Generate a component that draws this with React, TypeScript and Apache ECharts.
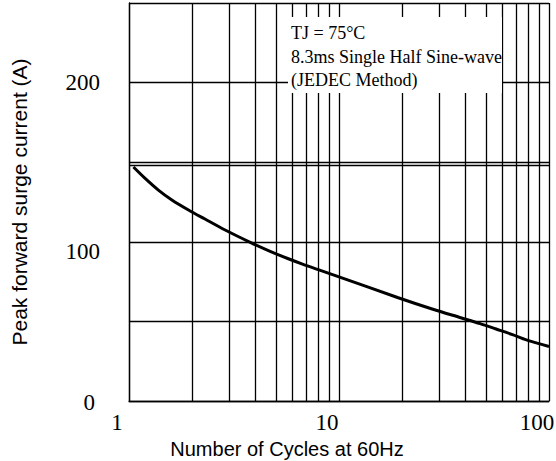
import React, { useEffect, useRef } from "react";
import * as echarts from "echarts";

const cycles = [1.05, 1.19, 1.38, 1.6, 1.92, 2.3, 2.87, 3.8, 4.7, 5.7, 6.7, 7.9, 10, 19, 28, 38, 47, 56, 67, 78, 100];
const surgeCurrent = [147, 140, 132.5, 126.3, 120, 114.3, 107.4, 99.5, 94, 89.5, 86, 82.7, 78, 65, 57.6, 52.3, 48.6, 45.2, 41.7, 38.4, 34.2];
const minorCycleLines = [2, 3, 4, 5, 6, 7, 8, 9, 20, 30, 40, 50, 60, 70, 80, 90];
const extraCurrentLines = [148.3];
const yTickLabels = [0, 100, 200];
const annotationLines = ["TJ = 75°C", "8.3ms Single Half Sine-wave", "(JEDEC Method)"];
const xTitle = "Number of Cycles at 60Hz";
const yTitle = "Peak forward surge current (A)";

const SERIF = "'Liberation Serif', 'Times New Roman', serif";
const SANS = "'Liberation Sans', Arial, sans-serif";
const GRID_W = 1.3;

export default function App() {
  const ref = useRef<HTMLDivElement>(null);
  useEffect(() => {
    if (!ref.current) return;
    const chart = echarts.init(ref.current, undefined, { renderer: "svg" });
    const data = cycles.map((c, i) => [c, surgeCurrent[i]]);
    const markData: any[] = minorCycleLines.map((v) => ({ xAxis: v }));
    extraCurrentLines.forEach((v) => markData.push({ yAxis: v }));
    chart.setOption({
      animation: false,
      backgroundColor: "#fff",
      grid: { left: 129, right: 7, top: 3, bottom: 60, containLabel: false, outerBoundsMode: "none" },
      xAxis: {
        type: "log",
        logBase: 10,
        min: 1,
        max: 100,
        name: xTitle,
        nameLocation: "middle",
        nameGap: 36,
        nameTextStyle: { fontFamily: SANS, fontSize: 20, color: "#000", padding: [0, 104, 0, 0] },
        axisLine: { show: true, onZero: false, lineStyle: { color: "#000", width: GRID_W } },
        axisTick: { show: false },
        axisLabel: {
          show: true,
          showMinLabel: true,
          showMaxLabel: true,
          margin: 10,
          fontFamily: SERIF,
          fontSize: 23,
          color: "#000",
          padding: [0, 24, 0, 0],
          formatter: (v: number) => String(v),
        },
        splitLine: { show: true, lineStyle: { color: "#000", width: GRID_W } },
        minorSplitLine: { show: false },
      },
      yAxis: {
        type: "value",
        min: 0,
        max: 250,
        interval: 50,
        name: yTitle,
        nameLocation: "middle",
        nameGap: 99,
        nameRotate: 90,
        nameTextStyle: { fontFamily: SANS, fontSize: 21, color: "#000" },
        axisLine: { show: true, lineStyle: { color: "#000", width: GRID_W } },
        axisTick: { show: false },
        axisLabel: {
          show: true,
          margin: 29,
          fontFamily: SERIF,
          fontSize: 23,
          color: "#000",
          formatter: (v: number) => {
            if (!yTickLabels.includes(v)) return "";
            if (v === 100) return "{d|" + v + "}";
            if (v === 0) return "{z|" + v + "}";
            return String(v);
          },
          rich: {
            d: { fontFamily: SERIF, fontSize: 23, color: "#000", padding: [20, 0, 0, 0] },
            z: { fontFamily: SERIF, fontSize: 23, color: "#000", padding: [3, 5, 0, 0] },
          },
        },
        splitLine: { show: true, lineStyle: { color: "#000", width: GRID_W } },
      },
      graphic: [
        {
          type: "rect",
          z: 100,
          shape: { x: 288, y: 17, width: 214, height: 76 },
          style: { fill: "#fff" },
        },
        ...annotationLines.map((t, i) => ({
          type: "text",
          z: 101,
          x: 291,
          y: [33, 57, 80][i],
          style: {
            text: t,
            fontFamily: SERIF,
            fontSize: 18,
            fill: "#000",
            verticalAlign: "middle",
            align: "left",
          },
        })),
      ],
      series: [
        {
          type: "line",
          data,
          smooth: 0.3,
          showSymbol: false,
          symbol: "none",
          lineStyle: { color: "#000", width: 3 },
          z: 5,
          markLine: {
            silent: true,
            symbol: "none",
            label: { show: false },
            lineStyle: { color: "#000", width: GRID_W, type: "solid" },
            data: markData,
          },
        },
      ],
    });
    return () => chart.dispose();
  }, []);
  return <div ref={ref} style={{ position: "absolute", left: 0, top: 0, width: 556, height: 461 }} />;
}
